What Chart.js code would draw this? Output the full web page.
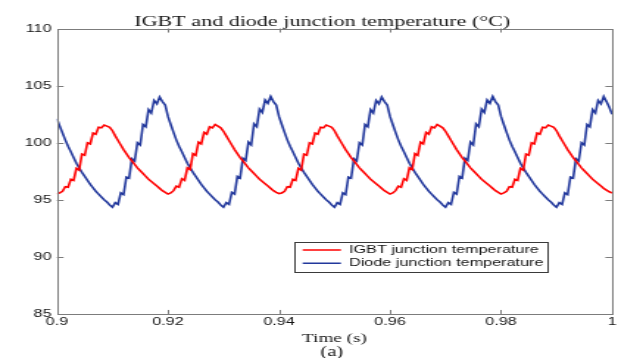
<!DOCTYPE html>
<html><head><meta charset="utf-8">
<script src="https://cdn.jsdelivr.net/npm/chart.js@4.4.1/dist/chart.umd.min.js"></script>
<style>
html,body{margin:0;padding:0;background:#fff;overflow:hidden;}
#wrap{width:618px;height:358px;overflow:hidden;}
#c{display:block;transform-origin:0 0;transform:scaleX(1.4714);}
</style></head><body>
<div id="wrap"><canvas id="c" width="420" height="358" style="width:420px;height:358px"></canvas></div>
<script>
// ---------- data ----------
const time = [
0.9,0.9005,0.901,0.9015,0.902,0.9025,0.903,0.9035,0.904,0.9045,0.905,0.9055,0.906,0.9065,0.907,0.9075,0.908,0.9085,0.909,0.9095,
0.91,0.9105,0.911,0.9115,0.912,0.9125,0.913,0.9135,0.914,0.9145,0.915,0.9155,0.916,0.9165,0.917,0.9175,0.918,0.9185,0.919,0.9195,
0.92,0.9205,0.921,0.9215,0.922,0.9225,0.923,0.9235,0.924,0.9245,0.925,0.9255,0.926,0.9265,0.927,0.9275,0.928,0.9285,0.929,0.9295,
0.93,0.9305,0.931,0.9315,0.932,0.9325,0.933,0.9335,0.934,0.9345,0.935,0.9355,0.936,0.9365,0.937,0.9375,0.938,0.9385,0.939,0.9395,
0.94,0.9405,0.941,0.9415,0.942,0.9425,0.943,0.9435,0.944,0.9445,0.945,0.9455,0.946,0.9465,0.947,0.9475,0.948,0.9485,0.949,0.9495,
0.95,0.9505,0.951,0.9515,0.952,0.9525,0.953,0.9535,0.954,0.9545,0.955,0.9555,0.956,0.9565,0.957,0.9575,0.958,0.9585,0.959,0.9595,
0.96,0.9605,0.961,0.9615,0.962,0.9625,0.963,0.9635,0.964,0.9645,0.965,0.9655,0.966,0.9665,0.967,0.9675,0.968,0.9685,0.969,0.9695,
0.97,0.9705,0.971,0.9715,0.972,0.9725,0.973,0.9735,0.974,0.9745,0.975,0.9755,0.976,0.9765,0.977,0.9775,0.978,0.9785,0.979,0.9795,
0.98,0.9805,0.981,0.9815,0.982,0.9825,0.983,0.9835,0.984,0.9845,0.985,0.9855,0.986,0.9865,0.987,0.9875,0.988,0.9885,0.989,0.9895,
0.99,0.9905,0.991,0.9915,0.992,0.9925,0.993,0.9935,0.994,0.9945,0.995,0.9955,0.996,0.9965,0.997,0.9975,0.998,0.9985,0.999,0.9995,
1.0];

const igbtTemp = [
95.5,95.6,95.75,96.15,96.1,96.8,96.7,97.75,97.6,99.0,98.9,100.0,99.9,100.85,100.75,101.35,101.3,101.55,101.45,101.35,
101.05,100.6,100.2,99.8,99.4,99.05,98.7,98.4,98.1,97.8,97.55,97.3,97.05,96.8,96.6,96.4,96.2,96.0,95.8,95.65,
95.5,95.6,95.8,96.2,96.1,96.85,96.7,97.8,97.65,99.05,98.9,100.05,99.9,100.9,100.75,101.4,101.3,101.6,101.45,101.3,
101.0,100.6,100.2,99.8,99.4,99.05,98.7,98.4,98.1,97.8,97.55,97.3,97.05,96.8,96.6,96.4,96.2,96.0,95.8,95.65,
95.55,95.6,95.75,96.15,96.1,96.8,96.7,97.75,97.6,99.0,98.9,100.0,99.9,100.85,100.75,101.35,101.3,101.55,101.45,101.35,
101.05,100.6,100.2,99.8,99.4,99.05,98.7,98.4,98.1,97.8,97.55,97.3,97.05,96.8,96.6,96.4,96.2,96.0,95.8,95.65,
95.5,95.6,95.8,96.2,96.1,96.85,96.7,97.8,97.65,99.05,98.9,100.05,99.9,100.9,100.75,101.4,101.3,101.6,101.45,101.3,
101.0,100.6,100.2,99.8,99.4,99.05,98.7,98.4,98.1,97.8,97.55,97.3,97.05,96.8,96.6,96.4,96.2,96.0,95.8,95.65,
95.5,95.6,95.75,96.15,96.1,96.8,96.7,97.75,97.6,99.0,98.9,100.0,99.9,100.85,100.75,101.35,101.3,101.55,101.45,101.35,
101.05,100.6,100.2,99.8,99.4,99.05,98.7,98.4,98.1,97.8,97.55,97.3,97.05,96.8,96.6,96.4,96.2,96.0,95.85,95.7,
95.6];

const diodeTemp = [
102.1,101.45,100.85,100.25,99.7,99.2,98.7,98.2,97.8,97.4,97.05,96.7,96.35,96.05,95.75,95.5,95.25,95.0,94.8,94.55,
94.35,94.75,94.6,95.6,95.45,97.0,96.9,98.6,98.4,100.0,99.8,101.6,101.4,102.9,102.6,103.7,103.4,104.0,103.6,103.3,
102.3,101.6,100.9,100.25,99.7,99.2,98.7,98.2,97.8,97.4,97.05,96.7,96.35,96.05,95.75,95.5,95.25,95.0,94.8,94.55,
94.35,94.75,94.6,95.65,95.5,97.05,96.9,98.65,98.45,100.05,99.8,101.65,101.4,102.95,102.65,103.75,103.45,104.05,103.6,103.3,
102.3,101.6,100.9,100.25,99.7,99.2,98.7,98.2,97.8,97.4,97.05,96.7,96.35,96.05,95.75,95.5,95.25,95.0,94.8,94.55,
94.35,94.75,94.6,95.6,95.45,97.0,96.9,98.6,98.4,100.0,99.8,101.6,101.4,102.9,102.6,103.7,103.4,104.0,103.6,103.3,
102.3,101.6,100.9,100.25,99.7,99.2,98.7,98.2,97.8,97.4,97.05,96.7,96.35,96.05,95.75,95.5,95.25,95.0,94.8,94.55,
94.35,94.75,94.6,95.65,95.5,97.05,96.9,98.65,98.45,100.05,99.8,101.65,101.4,102.95,102.65,103.75,103.45,104.05,103.6,103.3,
102.3,101.6,100.9,100.25,99.7,99.2,98.7,98.2,97.8,97.4,97.05,96.7,96.35,96.05,95.75,95.5,95.25,95.0,94.8,94.55,
94.35,94.75,94.6,95.6,95.45,97.0,96.9,98.6,98.4,100.0,99.8,101.6,101.4,102.9,102.6,103.7,103.4,104.05,103.6,103.1,
102.5];

const seriesNames = ['IGBT junction temperature', 'Diode junction temperature'];
const xTicks = [0.9, 0.92, 0.94, 0.96, 0.98, 1];
const xTickLabels = ['0.9', '0.92', '0.94', '0.96', '0.98', '1'];
const yTicks = [85, 90, 95, 100, 105, 110];
const yTickLabels = ['85', '90', '95', '100', '105', '110'];
const titleText = 'IGBT and diode junction temperature (\u00B0C)';
const xTitleText = 'Time (s)';
const captionText = '(a)';

// ---------- styling / layout ----------
const RED = '#ff0000';
const BLUE = '#22389c';
const AXIS = '#7c7c7c';
const TEXT = '#141414';
const SANS = "'Liberation Sans', Arial, sans-serif";
const SERIF = "'Liberation Serif', 'Times New Roman', serif";
const LEGEND_BOX = {x: 199.8, y: 242.3, w: 172, h: 30};
const LEGEND_POS = {x: 203.4, y: 242.2};
const TITLE_SPAN = {left: 18, right: 420};
const CAPTION_SPAN = {left: 31, right: 420};

const toPoints = ys => time.map((t, i) => ({x: t, y: ys[i]}));

const frameAndTicks = {
  id: 'frameAndTicks',
  afterDraw(chart) {
    const {ctx, chartArea: a, scales} = chart;
    ctx.save();
    ctx.strokeStyle = AXIS;
    ctx.lineWidth = 1;
    ctx.beginPath();
    const xs = scales.x, ys = scales.y;
    xTicks.slice(1, -1).forEach(v => {
      const px = Math.round(xs.getPixelForValue(v)) + 0.5;
      ctx.moveTo(px, a.bottom); ctx.lineTo(px, a.bottom - 4);
      ctx.moveTo(px, a.top); ctx.lineTo(px, a.top + 4);
    });
    yTicks.slice(1, -1).forEach(v => {
      const py = Math.round(ys.getPixelForValue(v)) + 0.5;
      ctx.moveTo(a.left, py); ctx.lineTo(a.left + 4.5, py);
      ctx.moveTo(a.right, py); ctx.lineTo(a.right - 4.5, py);
    });
    ctx.stroke();
    ctx.strokeRect(Math.round(a.left) + 0.5, Math.round(a.top) + 0.5,
                   Math.round(a.right) - Math.round(a.left), Math.round(a.bottom) - Math.round(a.top));
    ctx.strokeStyle = '#3a3a3a';
    ctx.strokeRect(Math.round(LEGEND_BOX.x) + 0.5, Math.round(LEGEND_BOX.y) + 0.5, LEGEND_BOX.w, LEGEND_BOX.h);
    ctx.restore();
  }
};

const boxPlace = {
  id: 'boxPlace',
  afterLayout(chart) {
    const lg = chart.legend;
    if (lg) {
      const w = lg.width, h = lg.height;
      lg.left = LEGEND_POS.x; lg.top = LEGEND_POS.y;
      lg.right = LEGEND_POS.x + w; lg.bottom = LEGEND_POS.y + h;
    }
    (chart.boxes || []).forEach(b => {
      if (!b || !b.options || b === lg) return;
      if (b.options.text === titleText) {
        b.left = TITLE_SPAN.left; b.right = TITLE_SPAN.right; b.width = b.right - b.left;
      } else if (b.options.text === captionText) {
        b.left = CAPTION_SPAN.left; b.right = CAPTION_SPAN.right; b.width = b.right - b.left;
      }
    });
  }
};

new Chart(document.getElementById('c'), {
  type: 'line',
  data: {
    datasets: [
      {label: seriesNames[0], data: toPoints(igbtTemp), borderColor: RED, backgroundColor: RED,
       borderWidth: 1.6, pointRadius: 0, tension: 0, fill: false},
      {label: seriesNames[1], data: toPoints(diodeTemp), borderColor: BLUE, backgroundColor: BLUE,
       borderWidth: 1.6, pointRadius: 0, tension: 0, fill: false}
    ]
  },
  options: {
    responsive: false,
    animation: false,
    devicePixelRatio: 1,
    layout: {padding: {left: 0, right: 3.4, top: 0, bottom: 0}},
    plugins: {
      title: {display: true, text: titleText, color: TEXT,
              font: {family: SERIF, size: 15, weight: 'normal', lineHeight: 0.87},
              padding: {top: 15.5, bottom: 0}},
      subtitle: {display: true, text: captionText, position: 'bottom', color: TEXT,
                 font: {family: SERIF, size: 14, weight: 'normal', lineHeight: 0.86},
                 padding: {top: 0, bottom: 0}},
      legend: {display: true, position: 'chartArea', fullSize: false, align: 'start',
               labels: {usePointStyle: true, pointStyle: 'line', pointStyleWidth: 26,
                        padding: 2.3, color: TEXT, font: {family: SANS, size: 11}}},
      tooltip: {enabled: false}
    },
    scales: {
      x: {type: 'linear', min: 0.9, max: 1.0,
          afterBuildTicks: s => { s.ticks = xTicks.map(v => ({value: v})); },
          grid: {display: false, drawTicks: false}, border: {display: false},
          ticks: {autoSkip: false, maxRotation: 0, padding: 1, color: TEXT,
                  font: {family: SANS, size: 11},
                  callback: (v, i) => xTickLabels[i]},
          title: {display: true, text: xTitleText, color: TEXT,
                  font: {family: SERIF, size: 13, weight: 'normal', lineHeight: 1},
                  padding: {top: 3.3, bottom: 0.5}}},
      y: {type: 'linear', min: 85, max: 110,
          afterBuildTicks: s => { s.ticks = yTicks.map(v => ({value: v})); },
          afterFit: s => { s.width = 38.7; },
          grid: {display: false, drawTicks: false}, border: {display: false},
          ticks: {padding: 3.6, color: TEXT, font: {family: SANS, size: 11},
                  callback: (v, i) => yTickLabels[i]}}
    }
  },
  plugins: [boxPlace, frameAndTicks]
});
</script>
</body></html>
